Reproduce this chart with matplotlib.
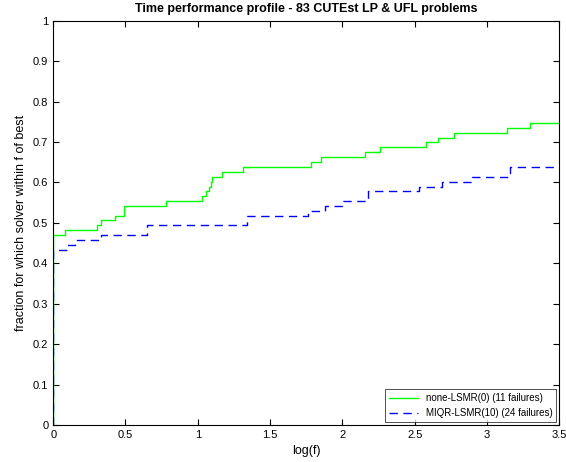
import matplotlib
matplotlib.use("Agg")
import matplotlib.pyplot as plt

plt.rcParams["font.family"] = ["Liberation Sans", "DejaVu Sans"]

# step locations (log(f)) and fraction reached at each step
greenX = [0, 0, 0.083, 0.30, 0.33, 0.43, 0.49, 0.78, 1.03, 1.06, 1.08, 1.09, 1.10, 1.17, 1.31,
          1.78, 1.85, 2.16, 2.26, 2.58, 2.66, 2.77, 3.14, 3.30, 3.5]
greenY = [0, 0.470, 0.482, 0.494, 0.506, 0.518, 0.542, 0.554, 0.566, 0.578, 0.590, 0.602, 0.614, 0.627,
          0.639, 0.651, 0.663, 0.675, 0.687, 0.699, 0.711, 0.723, 0.735, 0.747, 0.747]
blueX = [0, 0, 0.094, 0.15, 0.33, 0.65, 1.34, 1.76, 1.88, 2.00, 2.18, 2.53, 2.69, 2.90, 3.16, 3.5]
blueY = [0, 0.434, 0.446, 0.458, 0.470, 0.494, 0.518, 0.530, 0.542, 0.554, 0.578, 0.590, 0.602, 0.614,
         0.639, 0.639]

fig = plt.figure(figsize = (5.66, 4.62), dpi = 100)
ax = fig.add_axes([0.094, 0.08, 0.894, 0.875])

ax.step(blueX, blueY, where = "post", color = "#0000ff", linestyle = (0, (6, 4)), linewidth = 1.0,
        label = "MIQR-LSMR(10) (24 failures)")
ax.step(greenX, greenY, where = "post", color = "#00ff00", linewidth = 1.0,
        label = "none-LSMR(0) (11 failures)")

ax.set_xlim(0, 3.5)
ax.set_ylim(0, 1)
ax.set_xticks([0, 0.5, 1, 1.5, 2, 2.5, 3, 3.5])
ax.set_xticklabels(["0", "0.5", "1", "1.5", "2", "2.5", "3", "3.5"])
ax.set_yticks([i / 10 for i in range(11)])
ax.set_yticklabels(["0", "0.1", "0.2", "0.3", "0.4", "0.5", "0.6", "0.7", "0.8", "0.9", "1"])
ax.tick_params(labelsize = 8, direction = "in", length = 4, top = True, right = True)
ax.set_xlabel("log(f)", fontsize = 9)
ax.set_ylabel("fraction for which solver within f of best", fontsize = 9)
ax.set_title("Time performance profile - 83 CUTEst LP & UFL problems", fontsize = 9, fontweight = "bold")

handles, labels = ax.get_legend_handles_labels()
leg = ax.legend(handles[::-1], labels[::-1], loc = "lower right", fontsize = 7, fancybox = False,
                edgecolor = "black", borderaxespad = 0.3, handlelength = 3)
leg.get_frame().set_linewidth(0.6)

fig.savefig("out.png", dpi = 100)
